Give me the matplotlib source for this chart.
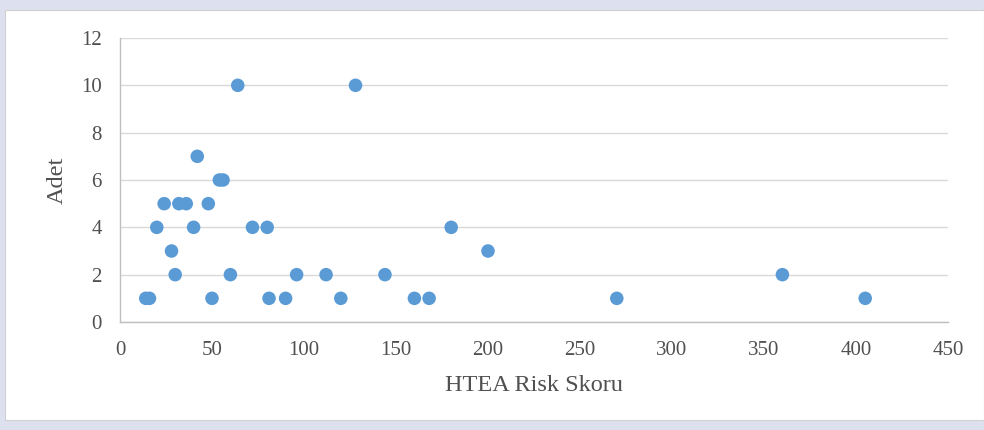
import matplotlib.pyplot as plt
from matplotlib.patches import Rectangle

# HTEA risk score vs. count
risk_y1 = [14, 16, 50, 81, 90, 120, 160, 168, 270, 405]
risk_y2 = [30, 60, 96, 112, 144, 360]
risk_y3 = [28, 200]
risk_y4 = [20, 40, 72, 80, 180]
risk_y5 = [24, 32, 36, 48]
risk_y6 = [54, 56]
risk_y7 = [42]
risk_y10 = [64, 128]

groups = [(1, risk_y1), (2, risk_y2), (3, risk_y3), (4, risk_y4),
          (5, risk_y5), (6, risk_y6), (7, risk_y7), (10, risk_y10)]

risk_scores = []
counts = []
for count, scores in groups:
    risk_scores += scores
    counts += [count] * len(scores)

x_ticks = [0, 50, 100, 150, 200, 250, 300, 350, 400, 450]
y_ticks = [0, 2, 4, 6, 8, 10, 12]

plt.rcParams['font.family'] = ['Liberation Serif', 'DejaVu Serif']

fig = plt.figure(figsize=(9.84, 4.30), dpi=100)
fig.patch.set_facecolor('#dde0ee')
# white panel inside the lavender frame
fig.patches.append(Rectangle((5 / 984, 10 / 430), 979 / 984, 410 / 430,
                             transform=fig.transFigure, facecolor='white',
                             edgecolor='#d0d0d0', linewidth=0.8, zorder=-10))

ax = fig.add_axes([120 / 984, 1 - 322 / 430, 828 / 984, 284 / 430])
ax.set_zorder(1)
ax.set_facecolor('white')
ax.scatter(risk_scores, counts, s=95, color='#5b9bd5', edgecolors='none', zorder=3)

ax.set_xlim(0, 450)
ax.set_ylim(0, 12)
ax.set_xticks(x_ticks)
ax.set_yticks(y_ticks)
ax.tick_params(length=0, labelsize=15, colors='#505050')
ax.tick_params(axis='y', pad=13)
ax.tick_params(axis='x', pad=14)
ax.grid(axis='y', color='#d9d9d9', linewidth=1)
ax.set_axisbelow(True)
for side in ['top', 'right']:
    ax.spines[side].set_visible(False)
for side in ['left', 'bottom']:
    ax.spines[side].set_color('#bfbfbf')
    ax.spines[side].set_linewidth(1)

ax.set_xlabel('HTEA Risk Skoru', fontsize=17.5, color='#505050')
ax.set_ylabel('Adet', fontsize=17.5, color='#505050')
ax.xaxis.set_label_coords(0.5, -0.185)
ax.yaxis.set_label_coords(-0.063, 0.5)

fig.savefig('out.png', dpi=100, facecolor=fig.get_facecolor())
